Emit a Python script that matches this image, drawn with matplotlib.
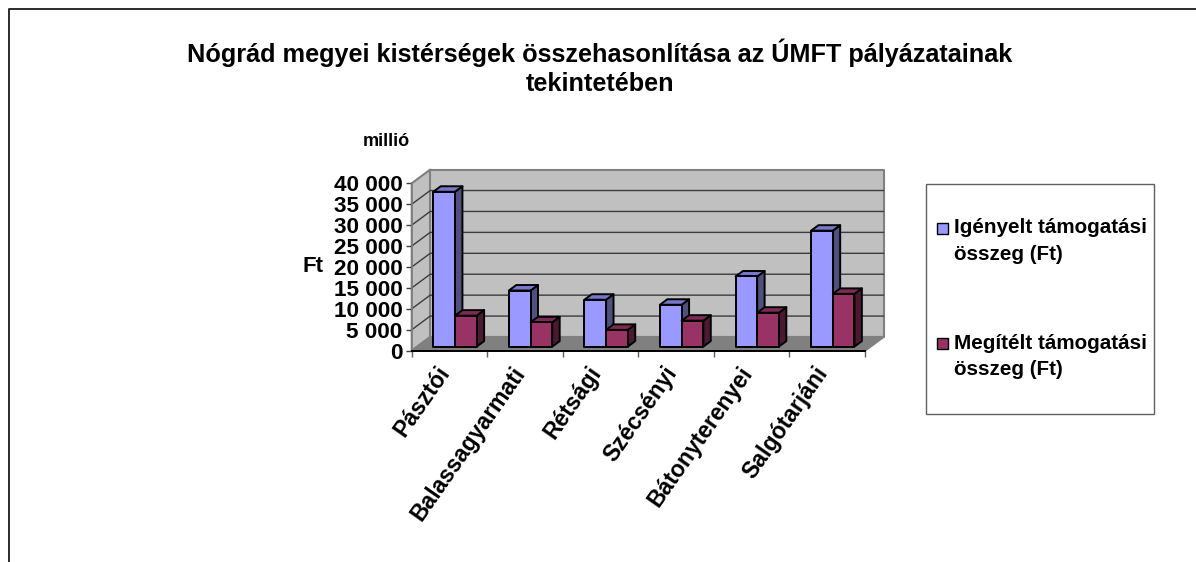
import numpy as np
import matplotlib
matplotlib.use('Agg')
import matplotlib.pyplot as plt
from matplotlib.patches import Rectangle
from matplotlib.lines import Line2D
from matplotlib.transforms import ScaledTranslation

plt.rcParams['font.family'] = ['Liberation Sans', 'DejaVu Sans']
plt.rcParams['font.weight'] = 'bold'

categories = ['Pásztói', 'Balassagyarmati', 'Rétsági', 'Szécsényi', 'Bátonyterenyei', 'Salgótarjáni']
igenyelt = [37000, 13400, 11200, 10000, 16750, 27700]
megitelt = [7400, 5800, 4000, 6200, 8100, 12600]
yticks = [0, 5000, 10000, 15000, 20000, 25000, 30000, 35000, 40000]
ytick_labels = ['0', '5 000', '10 000', '15 000', '20 000', '25 000', '30 000', '35 000', '40 000']
series_names = ['Igényelt támogatási\nösszeg (Ft)', 'Megítélt támogatási\nösszeg (Ft)']

W, H = 1196, 562
fig = plt.figure(figsize=(W / 100, H / 100), dpi=100)
ax = fig.add_axes([411.7 / W, (H - 350.7) / H, 453.3 / W, 167.4 / H])
ax.set_xlim(0, 6)
ax.set_ylim(0, 40000)

# how far the back wall sits from the front plane, in data units
depth_x = 18.5 / 75.55
depth_y = 13.7 / 167.4 * 40000


def proj(x, y, d):
    return x + d * depth_x, y + d * depth_y


def face(pts, color):
    xs, ys = zip(*[proj(*p) for p in pts])
    ax.fill(xs, ys, facecolor=color, edgecolor=edge_now, linewidth=lw_now, clip_on=False, zorder=z_now, joinstyle='round')


# walls and floor
edge_now, lw_now, z_now = '#808080', 1.5, 1
face([(0, 0, 0), (0, 0, 1), (0, 40000, 1), (0, 40000, 0)], '#c0c0c0')
face([(0, 0, 1), (6, 0, 1), (6, 40000, 1), (0, 40000, 1)], '#c0c0c0')
face([(0, 0, 0), (6, 0, 0), (6, 0, 1), (0, 0, 1)], '#808080')

for v in yticks[1:-1]:
    xs, ys = zip(proj(0, v, 0), proj(0, v, 1), proj(6, v, 1))
    ax.plot(xs, ys, color='#3c3c3c', lw=1.0, clip_on=False, zorder=1.5)

# bars
bar_w = 21.7 / 75.55
d0, d1 = 0.3, 0.7
edge_now, lw_now, z_now = 'black', 1.4, 3
for i in range(len(categories)):
    left = i + 0.5 - bar_w
    for off, val, front, top, side in [(0, igenyelt[i], '#9999ff', '#7777cc', '#50507f'),
                                       (bar_w, megitelt[i], '#993366', '#7f2a55', '#4c1933')]:
        a, b = left + off, left + off + bar_w
        face([(b, 0, d0), (b, 0, d1), (b, val, d1), (b, val, d0)], side)
        face([(a, val, d0), (b, val, d0), (b, val, d1), (a, val, d1)], top)
        face([(a, 0, d0), (b, 0, d0), (b, val, d0), (a, val, d0)], front)

# axes
for s in ['top', 'right']:
    ax.spines[s].set_visible(False)
ax.patch.set_alpha(0)
ax.spines['left'].set_color('#808080')
ax.spines['left'].set_linewidth(1.2)
ax.spines['bottom'].set_color('black')
ax.spines['bottom'].set_linewidth(1.4)
ax.spines['left'].set_zorder(4)
ax.spines['bottom'].set_zorder(4)
ax.set_yticks(yticks)
ax.set_yticklabels(ytick_labels, fontsize=16.2, fontweight='bold')
ax.tick_params(axis='y', length=4, width=1, color='#404040', pad=2.6)
ax.set_xticks(range(7))
ax.set_xticklabels([])
ax.tick_params(axis='x', which='major', length=4, width=1, color='#606060')
ax.set_xticks(np.arange(len(categories)) + 0.5, minor=True)
ax.set_xticklabels(categories, minor=True, rotation=55, ha='right', va='center',
                   rotation_mode='anchor', fontsize=16.6, fontweight='bold')
ax.tick_params(axis='x', which='minor', length=0, pad=13)
for label in ax.get_xticklabels(minor=True):
    label.set_transform(label.get_transform() + ScaledTranslation(-0.04, 0, fig.dpi_scale_trans))


def px_text(x, y, s, **kw):
    fig.text(x / W, (H - y) / H, s, **kw)


px_text(600, 67, 'Nógrád megyei kistérségek összehasonlítása az ÚMFT pályázatainak\ntekintetében',
        ha='center', va='center', fontsize=18.2, fontweight='bold', linespacing=1.26)
px_text(386, 142, 'millió', ha='center', va='center', fontsize=13, fontweight='bold')
px_text(312.5, 267, 'Ft', ha='center', va='center', fontsize=16, fontweight='bold')

# legend box
fig.add_artist(Rectangle((926 / W, (H - 414) / H), 228 / W, 230 / H, transform=fig.transFigure,
                         facecolor='white', edgecolor='#606060', lw=1.0))
for key_top, text_y, color, name in [(223, 241, '#9999ff', series_names[0]), (337.5, 356.5, '#993366', series_names[1])]:
    fig.add_artist(Rectangle((937 / W, (H - key_top - 11) / H), 10.5 / W, 11 / H, transform=fig.transFigure,
                             facecolor=color, edgecolor='black', lw=1.0))
    px_text(954, text_y, name, ha='left', va='center', fontsize=14.9, fontweight='bold', linespacing=1.5)

# outer frame, only top and left are visible
fig.add_artist(Line2D([9 / W, 9 / W, 1], [0, (H - 9) / H, (H - 9) / H], transform=fig.transFigure,
                      color='#1a1a1a', lw=1.3))

fig.savefig('out.png', dpi=100)
